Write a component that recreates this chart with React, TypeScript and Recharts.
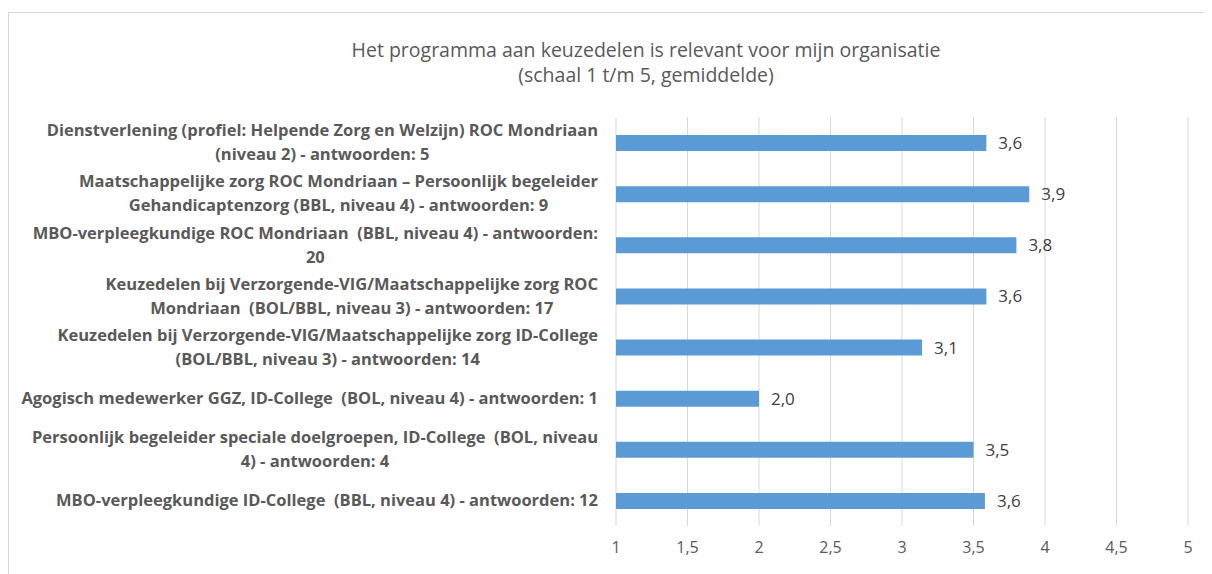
import React from "react";
import { BarChart, Bar, XAxis, YAxis, CartesianGrid, LabelList } from "recharts";

const categories = [
  "Dienstverlening (profiel: Helpende Zorg en Welzijn) ROC Mondriaan\n(niveau 2) - antwoorden: 5",
  "Maatschappelijke zorg ROC Mondriaan – Persoonlijk begeleider\nGehandicaptenzorg (BBL, niveau 4) - antwoorden: 9",
  "MBO-verpleegkundige ROC Mondriaan  (BBL, niveau 4) - antwoorden:\n20",
  "Keuzedelen bij Verzorgende-VIG/Maatschappelijke zorg ROC\nMondriaan  (BOL/BBL, niveau 3) - antwoorden: 17",
  "Keuzedelen bij Verzorgende-VIG/Maatschappelijke zorg ID-College\n(BOL/BBL, niveau 3) - antwoorden: 14",
  "Agogisch medewerker GGZ, ID-College  (BOL, niveau 4) - antwoorden: 1",
  "Persoonlijk begeleider speciale doelgroepen, ID-College  (BOL, niveau\n4) - antwoorden: 4",
  "MBO-verpleegkundige ID-College  (BBL, niveau 4) - antwoorden: 12",
];

const scores = [3.59, 3.89, 3.8, 3.59, 3.14, 2.0, 3.5, 3.58];

const xTicks = [1, 1.5, 2, 2.5, 3, 3.5, 4, 4.5, 5];

const titleLines = [
  "Het programma aan keuzedelen is relevant voor mijn organisatie",
  "(schaal 1 t/m 5, gemiddelde)",
];

const data = categories.map((name, i) => ({ name, score: scores[i] }));

const FONT = "'Open Sans', 'Noto Sans', sans-serif";
const LABEL_FONT = `bold 16.5px ${FONT}`;

let ctx: CanvasRenderingContext2D | null = null;
function textWidth(s: string) {
  if (!ctx) ctx = document.createElement("canvas").getContext("2d");
  if (!ctx) return s.length * 8;
  ctx.font = LABEL_FONT;
  return ctx.measureText(s).width;
}

const fmt = (v: number) => v.toFixed(1).replace(".", ",");

function CategoryTick(props: any) {
  const { x, y, payload } = props;
  const lines: string[] = String(payload.value).split("\n");
  const w = Math.max(...lines.map(textWidth));
  const right = x - 18;
  const cx = right - w / 2;
  const lh = 24;
  const y0 = y - ((lines.length - 1) * lh) / 2;
  return (
    <text
      x={cx}
      y={y0}
      textAnchor="middle"
      fill="#595959"
      style={{ font: LABEL_FONT, whiteSpace: "pre" }}
    >
      {lines.map((l, i) => (
        <tspan key={i} x={cx} y={y0 + i * lh} dy="0.35em">
          {l}
        </tspan>
      ))}
    </text>
  );
}

export default function App() {
  return (
    <div
      style={{
        position: "relative",
        marginTop: 4,
        width: 1204,
        height: 562,
        borderTop: "1px solid #d9d9d9",
        borderLeft: "1px solid #d9d9d9",
        fontFamily: FONT,
      }}
    >
      <div
        style={{
          position: "absolute",
          left: 237,
          top: 24,
          width: 800,
          textAlign: "center",
          color: "#595959",
          fontSize: 19.5,
          lineHeight: "25px",
        }}
      >
        {titleLines.map((t) => (
          <div key={t}>{t}</div>
        ))}
      </div>
      <BarChart
        width={1203}
        height={561}
        data={data}
        layout="vertical"
        margin={{ top: 104, right: 24, bottom: 18, left: 0 }}
        barCategoryGap={17}
      >
        <CartesianGrid horizontal={false} stroke="#d9d9d9" />
        <XAxis
          type="number"
          domain={[1, 5]}
          ticks={xTicks}
          tickFormatter={(v: number) => String(v).replace(".", ",")}
          axisLine={false}
          tickLine={false}
          tickMargin={10}
          height={30}
          tick={{ fill: "#595959", fontSize: 16, fontFamily: FONT }}
        />
        <YAxis
          type="category"
          dataKey="name"
          width={607}
          axisLine={false}
          tickLine={false}
          tickSize={0}
          tickMargin={0}
          interval={0}
          tick={<CategoryTick />}
        />
        <Bar dataKey="score" fill="#5B9BD5" barSize={16} isAnimationActive={false}>
          <LabelList
            dataKey="score"
            position="right"
            offset={12}
            formatter={(v: any) => fmt(Number(v))}
            style={{ fill: "#404040", fontSize: 17, fontFamily: FONT }}
          />
        </Bar>
      </BarChart>
    </div>
  );
}
